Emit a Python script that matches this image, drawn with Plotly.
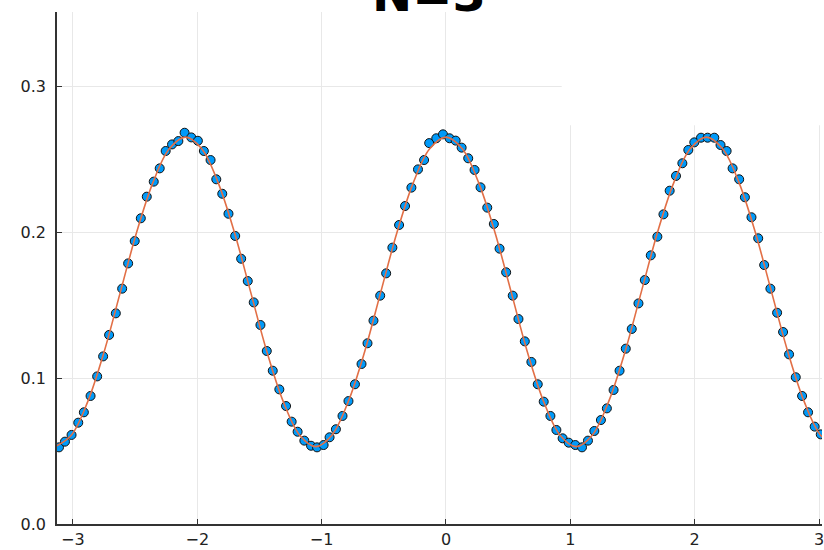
import plotly.graph_objects as go

# Sampled density estimates (blue markers)
sample_x = [
    -3.112, -3.064, -3.011, -2.957, -2.912, -2.858, -2.805, -2.757, -2.709, -2.655,
    -2.604, -2.556, -2.503, -2.454, -2.406, -2.350, -2.302, -2.254, -2.203, -2.152,
    -2.102, -2.048, -1.995, -1.947, -1.893, -1.847, -1.799, -1.749, -1.695, -1.647,
    -1.594, -1.546, -1.492, -1.441, -1.393, -1.340, -1.286, -1.241, -1.193, -1.139,
    -1.085, -1.037, -0.984, -0.936, -0.885, -0.832, -0.784, -0.732, -0.679, -0.631,
    -0.583, -0.529, -0.481, -0.431, -0.377, -0.329, -0.278, -0.225, -0.176, -0.135,
    -0.078, -0.024, 0.029, 0.078, 0.126, 0.179, 0.230, 0.278, 0.332, 0.385,
    0.431, 0.484, 0.537, 0.583, 0.634, 0.687, 0.738, 0.786, 0.840, 0.888,
    0.938, 0.987, 1.040, 1.094, 1.142, 1.193, 1.246, 1.294, 1.348, 1.396,
    1.446, 1.494, 1.548, 1.599, 1.647, 1.700, 1.749, 1.799, 1.850, 1.901,
    1.949, 1.997, 2.051, 2.104, 2.158, 2.208, 2.257, 2.305, 2.358, 2.404,
    2.457, 2.511, 2.559, 2.609, 2.663, 2.711, 2.759, 2.813, 2.864, 2.912,
    2.965, 3.014,
]
sample_y = [
    0.0525, 0.0564, 0.0610, 0.0694, 0.0765, 0.0877, 0.1011, 0.1148, 0.1295, 0.1443,
    0.1612, 0.1785, 0.1938, 0.2094, 0.2242, 0.2345, 0.2436, 0.2555, 0.2600, 0.2623,
    0.2680, 0.2648, 0.2625, 0.2555, 0.2493, 0.2361, 0.2262, 0.2125, 0.1973, 0.1817,
    0.1664, 0.1518, 0.1363, 0.1185, 0.1050, 0.0922, 0.0808, 0.0701, 0.0632, 0.0571,
    0.0536, 0.0525, 0.0541, 0.0594, 0.0649, 0.0740, 0.0842, 0.0957, 0.1096, 0.1238,
    0.1393, 0.1564, 0.1717, 0.1893, 0.2048, 0.2178, 0.2304, 0.2429, 0.2493, 0.2609,
    0.2642, 0.2669, 0.2642, 0.2626, 0.2578, 0.2505, 0.2425, 0.2306, 0.2167, 0.2055,
    0.1886, 0.1724, 0.1564, 0.1404, 0.1251, 0.1110, 0.0957, 0.0838, 0.0740, 0.0644,
    0.0587, 0.0557, 0.0541, 0.0525, 0.0571, 0.0637, 0.0712, 0.0792, 0.0918, 0.1050,
    0.1201, 0.1336, 0.1511, 0.1671, 0.1840, 0.1968, 0.2121, 0.2283, 0.2384, 0.2471,
    0.2562, 0.2614, 0.2646, 0.2646, 0.2646, 0.2596, 0.2555, 0.2436, 0.2361, 0.2238,
    0.2101, 0.1957, 0.1774, 0.1612, 0.1447, 0.1315, 0.1162, 0.1005, 0.0877, 0.0765,
    0.0667, 0.0614,
]

# Reference density curve (orange line)
curve_x = [
    -3.142, -3.011, -2.880, -2.749, -2.618, -2.487, -2.356, -2.225, -2.094, -1.964,
    -1.833, -1.702, -1.571, -1.440, -1.309, -1.178, -1.047, -0.916, -0.785, -0.654,
    -0.524, -0.393, -0.262, -0.131, 0.000, 0.131, 0.262, 0.393, 0.524, 0.654,
    0.785, 0.916, 1.047, 1.178, 1.309, 1.440, 1.571, 1.702, 1.833, 1.964,
    2.094, 2.225, 2.356, 2.487, 2.618, 2.749, 2.880, 3.011, 3.142,
]
curve_y = [
    0.053, 0.061, 0.084, 0.118, 0.159, 0.200, 0.234, 0.257, 0.265, 0.257,
    0.234, 0.200, 0.159, 0.118, 0.084, 0.061, 0.053, 0.061, 0.084, 0.118,
    0.159, 0.200, 0.234, 0.257, 0.265, 0.257, 0.234, 0.200, 0.159, 0.118,
    0.084, 0.061, 0.053, 0.061, 0.084, 0.118, 0.159, 0.200, 0.234, 0.257,
    0.265, 0.257, 0.234, 0.200, 0.159, 0.118, 0.084, 0.061, 0.053,
]

x_ticks = [-3, -2, -1, 0, 1, 2, 3]
x_tick_text = ["\u22123", "\u22122", "\u22121", "0", "1", "2", "3"]
y_ticks = [0.0, 0.1, 0.2, 0.3]
y_tick_text = ["0.0", "0.1", "0.2", "0.3"]

fig = go.Figure()
fig.add_trace(go.Scatter(
    x=curve_x, y=curve_y, mode="lines", line_shape="spline",
    line=dict(color="#e26f46", width=1.6),
    showlegend=False,
))
fig.add_trace(go.Scatter(
    x=sample_x, y=sample_y, mode="markers",
    marker=dict(size=9, color="#009af9", line=dict(color="#111111", width=1)),
    showlegend=False,
))
# keep the orange curve visible on top of the markers
fig.data = (fig.data[1], fig.data[0])

axis_font = dict(family="DejaVu Sans", size=16, color="#222222")
fig.update_layout(
    width=824, height=550,
    margin=dict(l=57, r=0, t=12, b=26),
    paper_bgcolor="white", plot_bgcolor="white",
    xaxis=dict(
        range=[-3.128, 3.024], tickvals=x_ticks, ticktext=x_tick_text,
        showgrid=True, gridcolor="#e8e8e8", gridwidth=1, zeroline=False,
        showline=True, linecolor="#333333", linewidth=1.6,
        ticks="inside", ticklen=5, tickcolor="#333333", tickfont=axis_font,
        ticklabeloverflow="allow",
    ),
    yaxis=dict(
        range=[0, 0.3507], tickvals=y_ticks, ticktext=y_tick_text,
        showgrid=True, gridcolor="#e8e8e8", gridwidth=1, zeroline=False,
        showline=True, linecolor="#333333", linewidth=1.6,
        ticks="inside", ticklen=5, tickcolor="#333333", tickfont=axis_font,
        ticklabelstandoff=6,
    ),
    annotations=[dict(
        text="<b>N=3</b>", xref="paper", yref="paper", x=0.486, y=1,
        xanchor="center", yanchor="bottom", yshift=-12, showarrow=False,
        font=dict(family="DejaVu Sans", size=48, color="black"),
    )],
    shapes=[dict(
        type="rect", xref="paper", yref="paper", x0=0.6597, x1=1.05, y0=0.779, y1=1.05,
        fillcolor="white", line=dict(width=0), layer="above",
    )],
)

fig.write_html("out.html")
